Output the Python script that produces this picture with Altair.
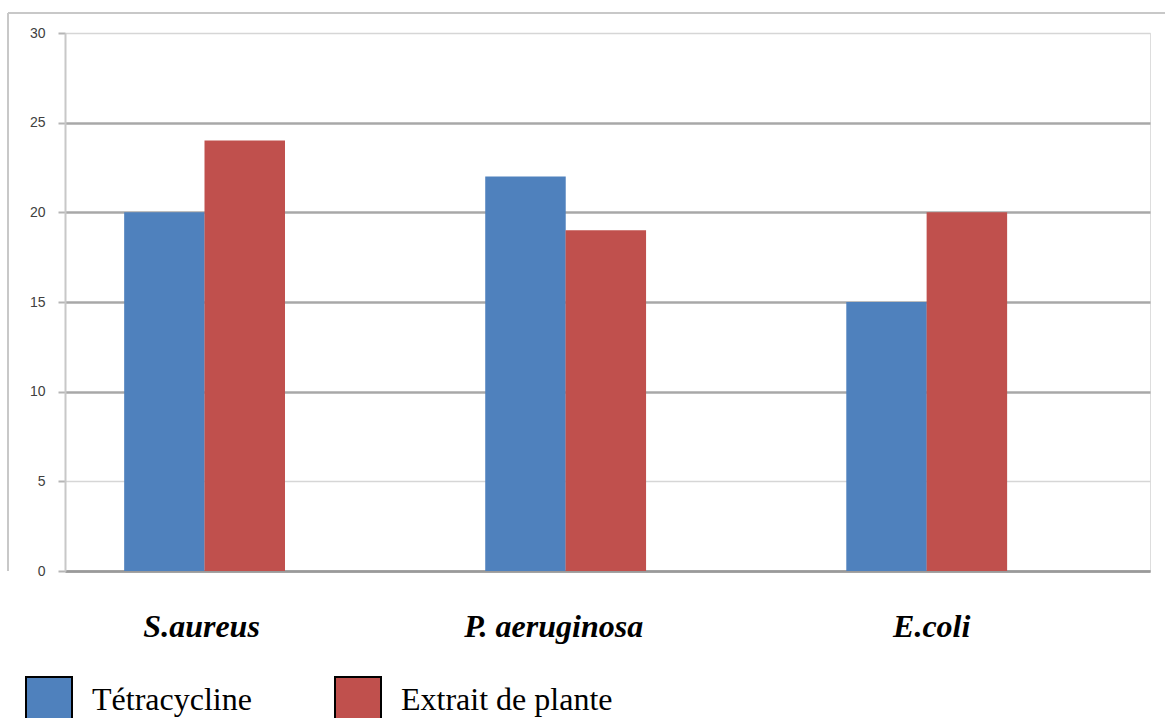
import altair as alt
import pandas as pd

categories = ["S.aureus", "P. aeruginosa", "E.coli"]
series = ["Tétracycline", "Extrait de plante"]
tetracycline = [20, 22, 15]
extrait = [24, 19, 20]
y_ticks = [0, 5, 10, 15, 20, 25, 30]
colors = ["#4F81BD", "#C0504D"]

rows = []
for c, t, e in zip(categories, tetracycline, extrait):
    rows.append({"cat": c, "serie": series[0], "val": t})
    rows.append({"cat": c, "serie": series[1], "val": e})
df = pd.DataFrame(rows)

W, H = 1085, 538

label_shift = {
    "condition": [
        {"test": "datum.value == 'S.aureus'", "value": -3},
        {"test": "datum.value == 'P. aeruginosa'", "value": -12},
    ],
    "value": 5,
}

bars = alt.Chart(df).mark_bar(size=80.5).encode(
    x=alt.X("cat:N", sort=categories, title=None,
            scale=alt.Scale(paddingInner=0.555, paddingOuter=0.28, align=0.293),
            axis=alt.Axis(labelAngle=0, ticks=False, tickSize=0, labelPadding=40,
                          labelFont="Liberation Serif", labelFontSize=32,
                          labelFontWeight="bold", labelFontStyle="italic",
                          labelColor="black", labelBaseline="top",
                          labelOffset=label_shift,
                          domainColor="#9a9a9a", domainWidth=2.5, grid=False)),
    xOffset=alt.XOffset("serie:N", sort=series),
    y=alt.Y("val:Q", title=None,
            scale=alt.Scale(domain=[0, 30], nice=False),
            axis=alt.Axis(values=y_ticks, tickSize=7, labelPadding=13,
                          labelFont="Liberation Sans", labelFontSize=14,
                          labelColor="#404040", tickColor="#b5b5b5", tickWidth=2,
                          domainColor="#c8c8c8", domainWidth=2,
                          gridColor=alt.condition("datum.value == 5 || datum.value == 30",
                                                  alt.value("#d6d6d6"), alt.value("#a8a8a8")),
                          gridWidth=alt.condition("datum.value == 5 || datum.value == 30",
                                                  alt.value(1.5), alt.value(2.5)))),
    color=alt.Color("serie:N", sort=series,
                    scale=alt.Scale(domain=series, range=colors),
                    legend=alt.Legend(title=None, orient="none", legendX=-40, legendY=643,
                                      direction="horizontal", columns=2,
                                      symbolType="square", symbolSize=2116,
                                      symbolStrokeColor="black", symbolStrokeWidth=2,
                                      symbolOpacity=1, labelOffset=19, columnPadding=79,
                                      labelFont="Liberation Serif", labelFontSize=32,
                                      labelColor="black", labelLimit=400)),
)

top_border = alt.Chart(df).mark_rule(color="#c8c8c8", strokeWidth=2).encode(
    x=alt.value(-57), x2=alt.value(1100), y=alt.value(-20))
left_border = alt.Chart(df).mark_rule(color="#c8c8c8", strokeWidth=2).encode(
    x=alt.value(-57), y=alt.value(-20), y2=alt.value(538))

chart = alt.layer(bars, top_border, left_border).properties(
    width=W, height=H,
    autosize=alt.AutoSizeParams(type="none"),
    padding={"left": 65, "top": 33, "right": 15, "bottom": 147},
).configure_view(stroke=None).configure(background="white")

chart.save("out.html", embed_options={"renderer": "svg", "actions": False})
